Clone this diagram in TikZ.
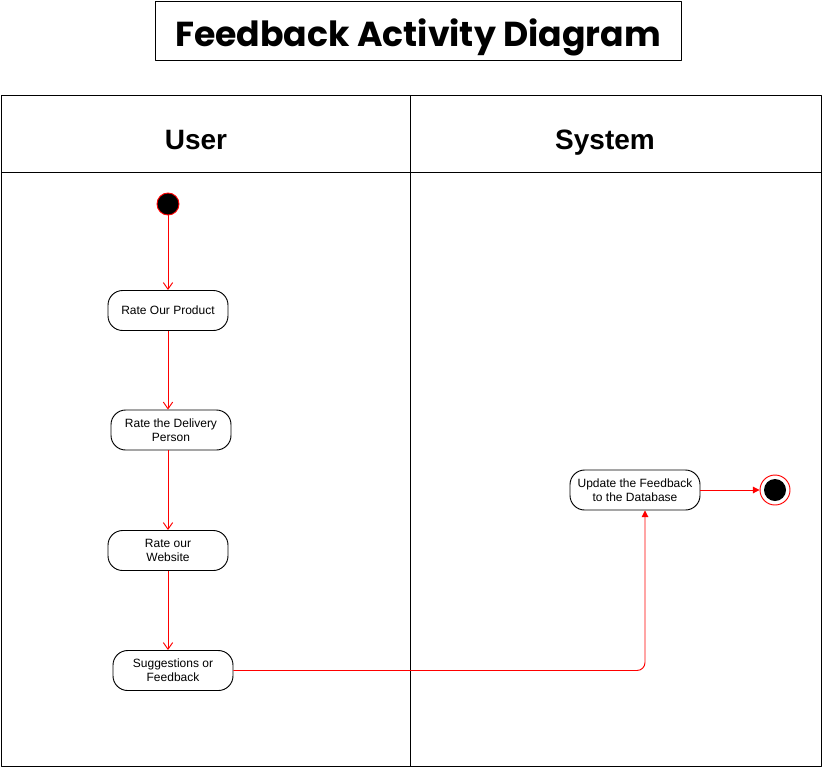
\documentclass[tikz,border=0pt]{standalone}
\usepackage{fontspec}
\setmainfont{Liberation Sans}
\newfontfamily\titlefont{Poppins}
\usetikzlibrary{arrows.meta}
\tikzset{
  act/.style={draw, rounded corners=11pt, minimum width=90pt, minimum height=30pt,
    align=center, inner sep=1pt, font=\fontsize{9}{10.5}\selectfont},
  lane/.style={anchor=base, font=\bfseries\fontsize{21}{24}\selectfont},
  flow/.style={draw=red, -{Straight Barb[length=5pt,width=7pt]}},
  push/.style={draw=red, -{Triangle[length=5pt,width=5pt]}},
}
\begin{document}
\begin{tikzpicture}[x=0.75pt,y=-0.75pt, line join=round, line width=0.7pt]
	\useasboundingbox (0,0) rectangle (823,768);
	% title
	\node[draw, minimum width=394.5pt, minimum height=44.25pt, inner sep=0pt,
	  text height=28.5pt, text depth=4pt,
	  font=\titlefont\bfseries\fontsize{26}{28}\selectfont] (title) at (418,30.5) {Feedback Activity Diagram};
	
	% swimlanes
	\draw (1,95) rectangle (821,766);
	\draw (410,95) -- (410,766);
	\draw (1,172) -- (821,172);
	\node[lane] (user) at (196,149) {User};
	\node[lane] (system) at (605,149) {System};
	
	% activities
	\node[circle, fill=black, draw=red, minimum size=16.5pt, inner sep=0pt] (start) at (168,204) {};
	\node[act] (product) at (168,310.5) {Rate Our Product};
	\node[act] (delivery) at (171,430) {Rate the Delivery\\Person};
	\node[act] (website) at (168,550.5) {Rate our\\Website};
	\node[act] (suggest) at (173,670.5) {Suggestions or\\Feedback};
	\node[act, minimum width=97.5pt] (update) at (635,490) {Update the Feedback\\to the Database};
	\node[circle, draw=red, minimum size=22.5pt, inner sep=0pt] (stop) at (775,490) {};
	\fill (stop) circle (8.25pt);
	
	% flows
	\draw[flow] (start) -- (product);
	\draw[flow] (product.south) -- (product.south |- delivery.north);
	\draw[flow] (product.south |- delivery.south) -- (website);
	\draw[flow] (website.south) -- (website.south |- suggest.north);
	\draw[push, rounded corners=6pt] (suggest.east) -| ([xshift=7.5pt]update.south);
	\draw[push] (update.east) -- (stop.west);
\end{tikzpicture}
\end{document}
